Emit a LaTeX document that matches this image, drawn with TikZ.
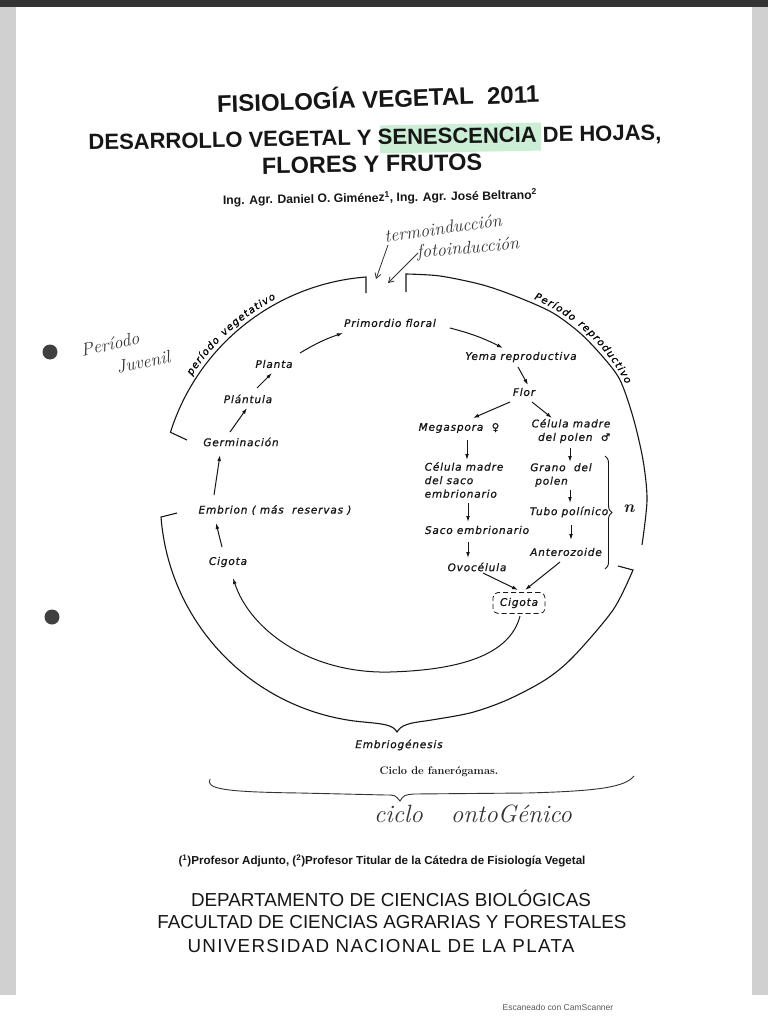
\documentclass[tikz,border=0pt]{standalone}
\usepackage{fontspec}
\usetikzlibrary{arrows.meta, positioning, decorations.text, decorations.pathreplacing}
\newfontfamily\hdrfont{Liberation Sans}
\newfontfamily\labfont{DejaVu Sans}[LetterSpace=8, FakeBold=0.8]
\definecolor{ink}{RGB}{22,22,22}
\definecolor{penink}{RGB}{50,50,56}
\definecolor{marker}{RGB}{204,238,213}
\definecolor{paperedge}{RGB}{208,208,208}
\tikzset{
  lab/.style={font=\labfont\itshape\fontsize{10.5}{13.5}\selectfont, text=ink, inner sep=2pt},
  arr/.style={-{Latex[length=6pt,width=3.8pt]}, line width=1pt, draw=ink},
  cyc/.style={line width=1.1pt, draw=ink},
  hand/.style={font=\itshape\fontsize{18}{20}\selectfont, text=penink, inner sep=0pt},
  handline/.style={line width=0.8pt, draw=penink, -{Straight Barb[length=5pt,width=6pt]}},
  hdr/.style={text=ink, inner sep=0pt},
  arclab/.style={decorate, decoration={text along path, text align={fit to path},
      text={|\labfont\itshape\fontsize{10}{12}\selectfont|#1}}}
}
\begin{document}
\begin{tikzpicture}[x=1pt, y=-1pt]
  % paper
  \useasboundingbox (0,0) rectangle (768,1024);
  \fill[white] (0,0) rectangle (768,1024);
  \fill[paperedge] (0,0) rectangle (16,995);
  \fill[paperedge] (752,0) rectangle (768,995);
  \fill[black!80] (0,0) rectangle (768,7);
  \fill[black!75] (50,352) circle[radius=7.5];
  \fill[black!75] (52,617) circle[radius=7.5];

  % header
  \fill[marker, rotate around={1:(460,138)}] (380,124) rectangle (541,152);
  \node[hdr, font=\hdrfont\bfseries\fontsize{24}{26}\selectfont, rotate=1.8] (title) at (378,97) {FISIOLOGÍA VEGETAL\ \ 2011};
  \node[hdr, font=\hdrfont\bfseries\fontsize{22}{24}\selectfont, rotate=1] (subtitle) at (375,139) {DESARROLLO VEGETAL Y SENESCENCIA DE HOJAS,};
  \node[hdr, font=\hdrfont\bfseries\fontsize{23.5}{25}\selectfont, rotate=1] (subtitle2) at (372,164) {FLORES Y FRUTOS};
  \node[hdr, font=\hdrfont\bfseries\fontsize{12.2}{14}\selectfont, rotate=1] (authors) at (380,198) {Ing. Agr. Daniel O. Giménez\textsuperscript{1}, Ing. Agr. José Beltrano\textsuperscript{2}};

  % handwritten notes
  \node[hand, rotate=8] (termo) at (443,228) {termoinducción};
  \node[hand, rotate=5] (foto) at (468,249) {fotoinducción};
  \coordinate (gapT) at (376,279);
  \coordinate (gapF) at (388,283);
  \draw[handline] ([shift={(-55,17)}]termo.center) -- (gapT);
  \draw[handline] ([shift={(-50,4)}]foto.center) -- (gapF);
  \node[hand, font=\itshape\fontsize{18}{20}\selectfont, rotate=12] (juv1) at (110,344) {Período};
  \node[hand, font=\itshape\fontsize{18}{20}\selectfont, rotate=12] (juv2) at (143,362) {Juvenil};

  % cycle arcs
  \draw[cyc] (366,293) -- (366,277) arc[start angle=265.6, end angle=197.5, radius=223] -- (187,440);
  \draw[cyc] (406,292) -- plot[smooth] coordinates {(406,274) (440,276) (483,285) (520,298) (553,313) (580,333) (603,357) (620,380) (633,417) (643,460) (647,500) (642,545)};
  \draw[cyc] (177,513) -- (161,517) arc[start angle=175.6, end angle=95, radius=223]
    .. controls (385,724) and (393,725) .. (397,732) .. controls (401,725) and (409,723) .. (425,721)
    -- plot[smooth] coordinates {(425,721) (470,713) (507,700) (545,680) (573,657) (613,610) (633,570)} -- (618,566);
  \path[arclab={período vegetativo}] (191.8,375.8) arc[start angle=213, end angle=242, radius=228];
  \path[arclab={Período reproductivo}] (534,299) arc[start angle=292.9, end angle=332.6, radius=184.7];

  % vegetative stages
  \node[lab] (primordio) at (390,323) {Primordio floral};
  \node[lab] (planta) at (274,364) {Planta};
  \node[lab] (plantula) at (248,399) {Plántula};
  \node[lab] (germinacion) at (241,442) {Germinación};
  \node[lab] (embrion) at (275,510) {Embrion ( más\ \ reservas )};
  \node[lab] (cigotaL) at (228,562) {Cigota};

  % reproductive stages
  \node[lab] (yema) at (521,357) {Yema reproductiva};
  \node[lab] (flor) at (524,392) {Flor};
  \node[lab] (megaspora) at (459,428) {Megaspora\ \ ♀};
  \node[lab, align=right] (cmpolen) at (571,431) {Célula madre\\del polen\ \ ♂};
  \node[lab, align=left] (cmsaco) at (464,480) {Célula madre\\del saco\\embrionario};
  \node[lab, align=left] (grano) at (561,475) {Grano\ \ del\\\hspace*{5pt}polen};
  \node[lab] (tubo) at (569,512) {Tubo polínico};
  \node[lab] (saco) at (477,530) {Saco embrionario};
  \node[lab] (antero) at (566,552) {Anterozoide};
  \node[lab] (ovocelula) at (477,567) {Ovocélula};
  \node[lab, draw=ink, line width=0.8pt, dash pattern=on 5pt off 3pt, rounded corners=5pt,
    minimum width=52, minimum height=21] (cigotaR) at (519,603) {Cigota};

  % arrows
  \draw[arr] ([shift={(26,-11)}]planta.center) to[bend left=6] ([shift={(-47,10)}]primordio.center);
  \draw[arr] ([shift={(60,5)}]primordio.center) to[bend left=6] ([shift={(-18,-9)}]yema.center);
  \draw[arr] ([shift={(-3,10)}]yema.center) -- ([shift={(4,-7)}]flor.center);
  \draw[arr] ([shift={(9,-11)}]plantula.center) -- ([shift={(-2,9)}]planta.center);
  \draw[arr] ([shift={(-11,-10)}]germinacion.center) -- ([shift={(-1,9)}]plantula.center);
  \draw[arr] ([shift={(-61,-15)}]embrion.center) -- ([shift={(-21,13)}]germinacion.center);
  \draw[arr] ([shift={(-6,-15)}]cigotaL.center) -- ([shift={(-59,13)}]embrion.center);
  \draw[arr] ([shift={(-14,10)}]flor.center) -- ([shift={(14,-10)}]megaspora.center);
  \draw[arr] ([shift={(8,10)}]flor.center) -- ([shift={(-19,-13)}]cmpolen.center);
  \draw[arr] ([shift={(8,12)}]megaspora.center) -- ([shift={(3,-20)}]cmsaco.center);
  \draw[arr] ([shift={(4,23)}]cmsaco.center) -- ([shift={(-9,-8)}]saco.center);
  \draw[arr] ([shift={(-9,12)}]saco.center) -- ([shift={(-9,-9)}]ovocelula.center);
  \draw[arr] ([shift={(-1,17)}]cmpolen.center) -- ([shift={(9,-13)}]grano.center);
  \draw[arr] ([shift={(9,15)}]grano.center) -- ([shift={(1,-9)}]tubo.center);
  \draw[arr] ([shift={(2,13)}]tubo.center) -- ([shift={(5,-12)}]antero.center);
  \draw[arr] ([shift={(6,6)}]ovocelula.center) -- ([shift={(-1,-13)}]cigotaR.center);
  \draw[arr] ([shift={(-6,10)}]antero.center) -- ([shift={(6,-13)}]cigotaR.center);
  \draw[arr] ([shift={(1,13)}]cigotaR.center) .. controls (510,655) and (460,670) .. (390,672)
    .. controls (310,674) and (250,630) .. ([shift={(5,16)}]cigotaL.center);

  % haploid group
  \draw[ink, line width=0.9pt, decorate, decoration={brace, amplitude=7pt}] (605,456) -- (605,569);
  \node[font=\bfseries\itshape\fontsize{17}{17}\selectfont, text=ink] (haplo) at (629,509) {n};

  % captions
  \node[lab] (embriog) at (399,745) {Embriogénesis};
  \node[font=\bfseries\fontsize{11}{13}\selectfont, text=ink] (ciclo) at (439,772) {Ciclo de fanerógamas.};
  \draw[penink, line width=0.9pt] (210,779) .. controls (205,789) and (225,792) .. (300,793) -- (386,795)
    .. controls (395,795) .. (400,801) .. controls (404,795) .. (414,794) -- (527,793)
    .. controls (600,791) and (625,787) .. (634,776);
  \node[hand, font=\itshape\fontsize{25}{27}\selectfont] (onto) at (473,814) {ciclo\hspace{28pt}ontoGénico};

  % footer
  \node[hdr, font=\hdrfont\bfseries\fontsize{11.6}{13}\selectfont] (roles) at (382,861) {(\textsuperscript{1})Profesor Adjunto, (\textsuperscript{2})Profesor Titular de la Cátedra de Fisiología Vegetal};
  \node[hdr, font=\hdrfont\fontsize{18.8}{22}\selectfont] (dept) at (391,898) {DEPARTAMENTO DE CIENCIAS BIOLÓGICAS};
  \node[hdr, font=\hdrfont\fontsize{18.8}{22}\selectfont] (fac) at (392,922) {FACULTAD DE CIENCIAS AGRARIAS Y FORESTALES};
  \node[hdr, font=\hdrfont\fontsize{18.8}{22}\selectfont\addfontfeature{LetterSpace=7}] (unlp) at (381,946) {UNIVERSIDAD NACIONAL DE LA PLATA};
  \node[font=\hdrfont\fontsize{8.5}{10}\selectfont, text=black!65] (scan) at (558,1007) {Escaneado con CamScanner};
\end{tikzpicture}
\end{document}
